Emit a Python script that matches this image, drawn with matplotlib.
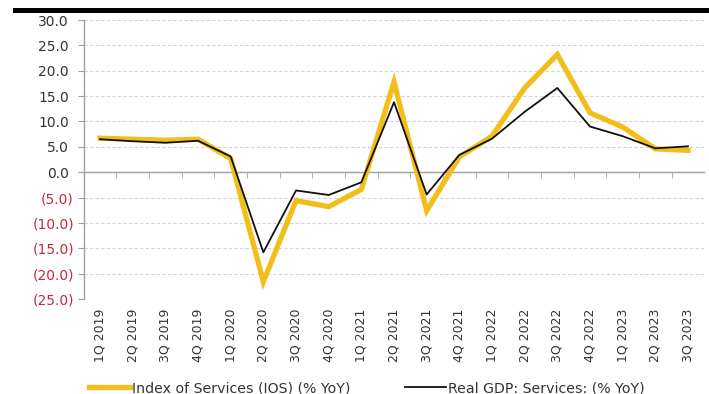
import matplotlib
matplotlib.use("Agg")
import matplotlib.pyplot as plt
import matplotlib.transforms as mtransforms
from matplotlib.patches import Rectangle

categories = ["1Q 2019", "2Q 2019", "3Q 2019", "4Q 2019",
              "1Q 2020", "2Q 2020", "3Q 2020", "4Q 2020",
              "1Q 2021", "2Q 2021", "3Q 2021", "4Q 2021",
              "1Q 2022", "2Q 2022", "3Q 2022", "4Q 2022",
              "1Q 2023", "2Q 2023", "3Q 2023"]
ios = [6.7, 6.5, 6.3, 6.5, 2.7, -21.6, -5.6, -6.8, -3.4, 17.8, -7.6, 3.0,
       7.1, 16.6, 23.2, 11.7, 8.9, 4.6, 4.3]
gdp = [6.5, 6.1, 5.8, 6.2, 3.1, -15.8, -3.6, -4.5, -2.0, 13.8, -4.4, 3.4,
       6.6, 11.9, 16.6, 9.0, 7.1, 4.7, 5.1]
yticks = [30, 25, 20, 15, 10, 5, 0, -5, -10, -15, -20, -25]
ios_label = "Index of Services (IOS) (% YoY)"
gdp_label = "Real GDP: Services: (% YoY)"

W, H = 709, 394
fig = plt.figure(figsize=(W / 100, H / 100), dpi=100)
ax = fig.add_axes([83.7 / W, 1 - 299 / H, 620.6 / W, 279 / H])

x = list(range(len(categories)))
ax.plot(x, ios, color="#F2BE1A", lw=3.8, solid_joinstyle="miter", label=ios_label, zorder=3)
ax.plot(x, gdp, color="#111111", lw=1.3, label=gdp_label, zorder=4)

ax.set_xlim(-0.5, len(categories) - 0.5)
ax.set_ylim(-25, 30)

# grid
ax.set_yticks(yticks)
ax.yaxis.grid(True, color="#d4d4d4", ls=(0, (3, 2)), lw=0.8)
ax.set_axisbelow(True)

# spines
for s in ["top", "right"]:
    ax.spines[s].set_visible(False)
ax.spines["left"].set_color("#a0a0a0")
ax.spines["bottom"].set_color("#a0a0a0")
ax.spines["bottom"].set_position(("data", 0))
ax.spines["left"].set_linewidth(1.0)
ax.spines["bottom"].set_linewidth(1.0)

# y tick labels (accounting style)
labels = []
for v in yticks:
    labels.append(f"({abs(v):.1f})" if v < 0 else f"{v:.1f}")
ax.set_yticklabels(labels)
ax.tick_params(axis="y", length=4, color="#a0a0a0", pad=3, labelsize=10)
off = mtransforms.ScaledTranslation(-5 / 100, 0, fig.dpi_scale_trans)
for v, t in zip(yticks, ax.get_yticklabels()):
    if v < 0:
        t.set_color("#C8283C")
    else:
        t.set_color("#333333")
        t.set_transform(t.get_transform() + off)

# x: minor ticks between categories at zero line
ax.set_xticks([i - 0.5 for i in range(1, len(categories))], minor=True)
ax.set_xticks([])
ax.tick_params(axis="x", which="minor", length=4, color="#a0a0a0", direction="out")

sec = ax.secondary_xaxis("bottom")
sec.set_xticks(x)
sec.set_xticklabels(categories, rotation=90, fontsize=9, color="#333333")
sec.tick_params(length=0, pad=7)
sec.spines["bottom"].set_visible(False)

# top black bar
fig.add_artist(Rectangle((13 / W, 1 - 13 / H), (W - 13) / W, 5 / H,
                         transform=fig.transFigure, color="black", lw=0))

leg = fig.legend(loc="center left", bbox_to_anchor=(89 / W, 1 - 388 / H), ncol=2,
                 frameon=False, fontsize=10.2, handlelength=2.9, handletextpad=0.1,
                 columnspacing=3.9, borderaxespad=0, borderpad=0)
for t in leg.get_texts():
    t.set_color("#333333")

fig.savefig("out.png", dpi=100)
